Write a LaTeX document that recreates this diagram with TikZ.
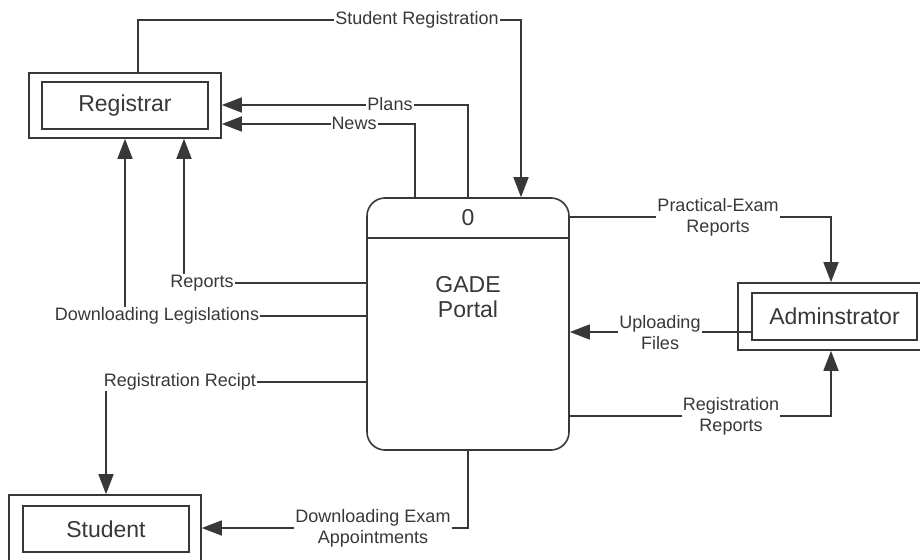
\documentclass[tikz,border=0pt]{standalone}
\usepackage{fontspec}
\setmainfont{Liberation Sans}
\usetikzlibrary{arrows.meta}
\definecolor{ink}{HTML}{383838}
\tikzset{
  ln/.style={draw=ink, line width=1.6pt},
  arr/.style={ln, -{Triangle[length=20pt,width=15pt]}},
  ent/.style={draw=ink, line width=1.6pt, inner sep=0pt, fill=white},
  lbl/.style={fill=white, inner sep=1pt, text=ink, align=center,
    font=\fontsize{18}{21}\selectfont},
  big/.style={text=ink, align=center, font=\fontsize{23}{25}\selectfont},
}
\begin{document}
\begin{tikzpicture}[x=1pt,y=-1pt]
\useasboundingbox (0,0) rectangle (920,559);
\clip (0,0) rectangle (920,559);
\fill[white] (0,0) rectangle (920,559);

% entities
\node[ent, minimum width=192pt, minimum height=65pt] (regO) at (125,105.5) {};
\node[ent, minimum width=166pt, minimum height=47pt, big] (regI) at (125,105.5) {Registrar};
\node[ent, minimum width=197pt, minimum height=67pt] (admO) at (836.5,316.5) {};
\node[ent, minimum width=165pt, minimum height=47pt, big] (admI) at (834.5,316.5) {Adminstrator};
\node[ent, minimum width=192pt, minimum height=68pt] (stuO) at (105,529) {};
\node[ent, minimum width=166pt, minimum height=46pt, big] (stuI) at (106,529) {Student};

% process
\node[draw=ink, line width=1.6pt, rounded corners=18pt, minimum width=202pt,
      minimum height=252pt, inner sep=0pt] (proc) at (468,324) {};
\coordinate (dv) at (0,238);
\draw[ln] (proc.west |- dv) -- (proc.east |- dv);
\node[big] (pnum) at (468,218) {0};
\node[big] (pname) at (468,297) {GADE\\Portal};

% coordinates for bends
\coordinate (sr1) at (138,20);
\coordinate (sr2) at (521,20);
\coordinate (pl) at (468,105);
\coordinate (nw) at (415,124);
\coordinate (rp) at (184,283);
\coordinate (dl) at (125,316);
\coordinate (rr) at (106,382);
\coordinate (de) at (468,528);
\coordinate (pe) at (831,217);
\coordinate (uf) at (700,332);
\coordinate (rg) at (831,416);

% connectors
\draw[arr] (regO.north -| sr1) -- (sr1) -- (sr2) -- (proc.north -| sr2);
\node[lbl] (lsr) at (417,20) {Student Registration};

\draw[arr] (proc.north -| pl) -- (pl) -- (regO.east |- pl);
\node[lbl] (lpl) at (390,104) {Plans};

\draw[arr] (proc.north -| nw) -- (nw) -- (regO.east |- nw);
\node[lbl] (lnw) at (354,123) {News};

\draw[arr] (proc.west |- rp) -- (rp) -- (regO.south -| rp);
\node[lbl] (lrp) at (202,283) {Reports};

\draw[arr] (proc.west |- dl) -- (dl) -- (regO.south -| dl);
\node[lbl] (ldl) at (157,316) {Downloading Legislations};

\draw[arr] (proc.west |- rr) -- (rr) -- (stuO.north -| rr);
\node[lbl] (lrr) at (180,382) {Registration Recipt};

\draw[arr] (proc.south -| de) -- (de) -- (stuO.east |- de);
\node[lbl] (lde) at (373,528) {Downloading Exam\\Appointments};

\draw[arr] (proc.east |- pe) -- (pe) -- (admO.north -| pe);
\node[lbl] (lpe) at (718,217) {Practical-Exam\\Reports};

\draw[arr] (admI.west |- uf) -- (proc.east |- uf);
\node[lbl] (luf) at (660,333) {Uploading\\Files};

\draw[arr] (proc.east |- rg) -- (rg) -- (admO.south -| rg);
\node[lbl] (lrg) at (731,416) {Registration\\Reports};
\end{tikzpicture}
\end{document}
